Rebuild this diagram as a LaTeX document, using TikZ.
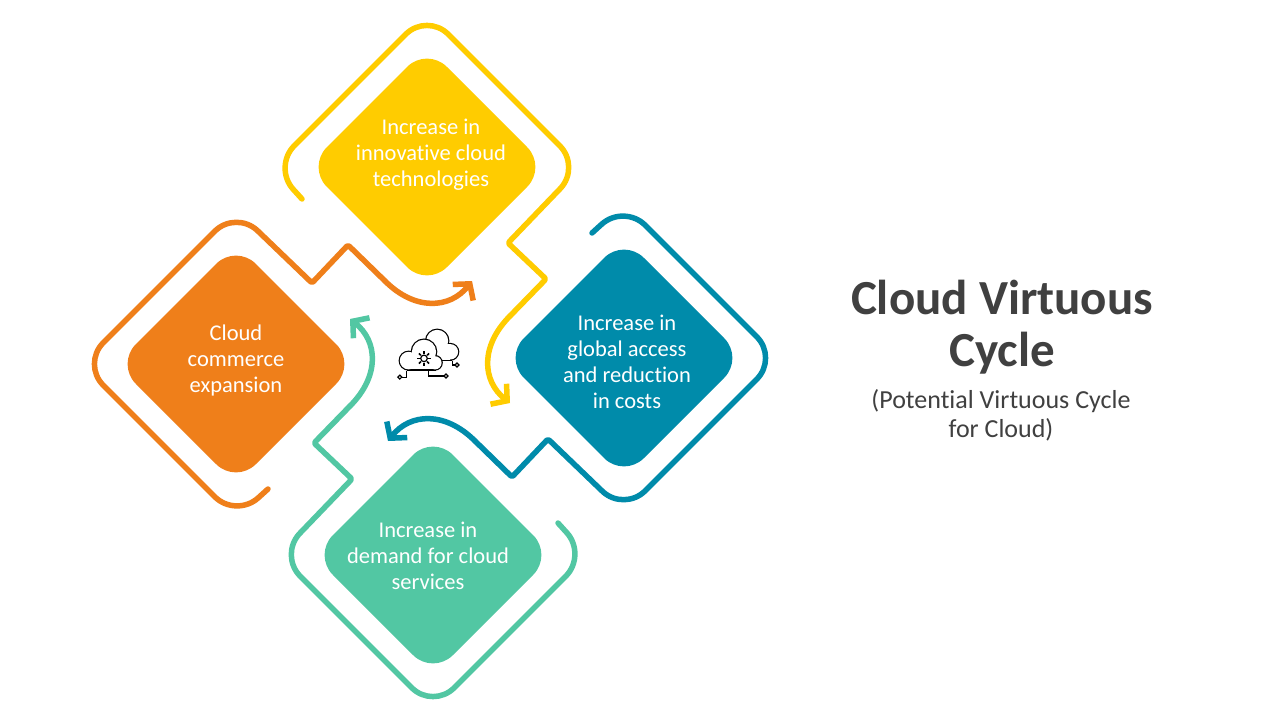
\documentclass[tikz,border=0pt]{standalone}
\usepackage{fontspec}
\setmainfont{Carlito}[Ligatures=NoCommon]
\usetikzlibrary{arrows.meta}
\definecolor{cy}{HTML}{FFCC00}
\definecolor{co}{HTML}{EF7F1A}
\definecolor{cb}{HTML}{008BAA}
\definecolor{cg}{HTML}{52C7A3}
\definecolor{tx}{HTML}{404040}
\tikzset{
  outl/.style={line width=5.5pt, line cap=round, line join=round},
  arr/.style={-{Straight Barb[length=11pt,width=26pt,line width=5.5pt]}},
  fillshape/.style={rounded corners=28pt},
  lbl/.style={text=white, font=\fontsize{22.5}{26}\selectfont, align=center},
}
\newcommand{\unitpart}[1]{%
  \fill[#1, fillshape] (-314,3) -- (-194,-117) -- (-74,3) -- (-194,123) -- cycle;
  \draw[#1, outl] (-162,128) [rounded corners=30pt] -- (-194,157) -- (-348,3) -- (-194,-151) [rounded corners=2pt] -- (-118,-78) -- (-82,-116) -- (-45,-80);
  \draw[#1, line width=5.5pt, line cap=round, arr] (-45,-80) .. controls (-15,-50) and (20,-52) .. (42,-80);
}
\begin{document}
\begin{tikzpicture}[x=1pt,y=-1pt]
\useasboundingbox (0,0) rectangle (1280,720);
\fill[white] (0,0) rectangle (1280,720);
\begin{scope}[shift={(430,361)}]
  \unitpart{co}
  \begin{scope}[rotate=-90]\unitpart{cy}\end{scope}
  \begin{scope}[rotate=-180]\unitpart{cb}\end{scope}
  \begin{scope}[rotate=-270]\unitpart{cg}\end{scope}
\end{scope}
\node[lbl] (t1) at (431,155) {Increase in\\innovative cloud\\technologies};
\node[lbl] (t2) at (627,362) {Increase in\\global access\\and reduction\\in costs};
\node[lbl] (t3) at (236,360) {Cloud\\commerce\\expansion};
\node[lbl] (t4) at (428,556) {Increase in\\demand for cloud\\services};
\node[text=tx, font=\bfseries\fontsize{49}{52}\selectfont, align=center] (title) at (1002,327) {Cloud Virtuous\\Cycle};
\node[text=tx, font=\fontsize{26}{29}\selectfont, align=center] (sub) at (1001,415) {(Potential Virtuous Cycle\\for Cloud)};
% cloud icon
\begin{scope}[shift={(424,354)}, scale=1.1, black]
  \begin{scope}[line width=2.4pt]
    \draw (12,-12) circle (10); \draw (24,-2) circle (7); \draw (2,-2) circle (6); \draw (2,-9) rectangle (24,5);
  \end{scope}
  \fill[white] (12,-12) circle (10); \fill[white] (24,-2) circle (7); \fill[white] (2,-2) circle (6); \fill[white] (2,-9) rectangle (24,5);
  \begin{scope}[line width=2.4pt]
    \draw (-14,6) circle (8); \draw (0,-2) circle (11); \draw (10,8) circle (6); \draw (-14,2) rectangle (10,14);
  \end{scope}
  \fill[white] (-14,6) circle (8); \fill[white] (0,-2) circle (11); \fill[white] (10,8) circle (6); \fill[white] (-14,2) rectangle (10,14);
  \draw[line width=1.2pt] (0,4) circle (3);
  \foreach \a in {0,45,...,315} \draw[line width=1.6pt] (\a:4) ++(0,4) -- ++(\a:2.5);
  \draw[line width=1.2pt] (-16,15) -- (-16,21) -- (-20,21); \draw[line width=1.2pt] (-22,21) circle (1.8);
  \draw[line width=1.2pt] (4,15) -- (4,20) -- (18,20); \draw[line width=1.2pt] (20,20) circle (1.8);
  \draw[line width=1.2pt] (26,6) -- (26,10) -- (28,10); \draw[line width=1.2pt] (30,10) circle (1.8);
\end{scope}
\end{tikzpicture}
\end{document}
